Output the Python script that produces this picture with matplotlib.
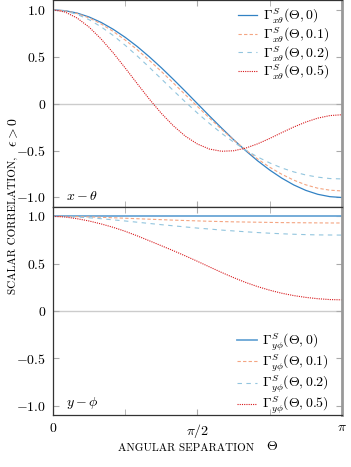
import numpy as np
import matplotlib.pyplot as plt

plt.rcParams['mathtext.fontset'] = 'cm'
plt.rcParams['font.family'] = 'serif'
plt.rcParams['font.serif'] = ['cmr10', 'DejaVu Serif']
plt.rcParams['axes.unicode_minus'] = False

# angular separation in degrees (sampled every 7.5 deg)
theta_deg = [0, 7.5, 15, 22.5, 30, 37.5, 45, 52.5, 60, 67.5, 75, 82.5, 90,
             97.5, 105, 112.5, 120, 127.5, 135, 142.5, 150, 157.5, 165, 172.5, 180]

# x - theta correlations
xt_e00 = [1.0, 0.991, 0.966, 0.924, 0.866, 0.793, 0.707, 0.609, 0.5, 0.383, 0.259, 0.131, 0.0,
          -0.131, -0.259, -0.383, -0.5, -0.609, -0.707, -0.793, -0.866, -0.924, -0.966, -0.991, -1.0]
xt_e01 = [1.0, 0.990, 0.961, 0.914, 0.850, 0.770, 0.678, 0.575, 0.462, 0.344, 0.220, 0.095, -0.03,
          -0.153, -0.273, -0.386, -0.492, -0.590, -0.677, -0.752, -0.815, -0.865, -0.901, -0.922, -0.93]
xt_e02 = [1.0, 0.988, 0.952, 0.895, 0.819, 0.727, 0.622, 0.508, 0.388, 0.264, 0.140, 0.018, -0.10,
          -0.211, -0.315, -0.409, -0.494, -0.568, -0.631, -0.685, -0.727, -0.760, -0.783, -0.798, -0.802]
xt_e05 = [1.0, 0.977, 0.913, 0.816, 0.689, 0.542, 0.380, 0.213, 0.049, -0.103, -0.236, -0.347, -0.43,
          -0.484, -0.507, -0.502, -0.474, -0.428, -0.371, -0.309, -0.249, -0.196, -0.154, -0.127, -0.118]

# y - phi correlations
yp_e00 = [1.0] * 25
yp_e01 = [1.0, 0.999, 0.997, 0.994, 0.99, 0.985, 0.98, 0.975, 0.97, 0.965, 0.96, 0.956, 0.952,
          0.948, 0.945, 0.942, 0.94, 0.938, 0.936, 0.934, 0.933, 0.932, 0.931, 0.930, 0.93]
yp_e02 = [1.0, 0.998, 0.993, 0.985, 0.975, 0.963, 0.951, 0.938, 0.925, 0.912, 0.90, 0.888, 0.876,
          0.866, 0.855, 0.846, 0.837, 0.829, 0.822, 0.816, 0.811, 0.807, 0.804, 0.803, 0.802]
yp_e05 = [1.0, 0.993, 0.975, 0.951, 0.92, 0.884, 0.842, 0.794, 0.742, 0.690, 0.637, 0.582, 0.525,
          0.466, 0.408, 0.353, 0.302, 0.258, 0.220, 0.188, 0.163, 0.144, 0.130, 0.121, 0.118]

eps_labels = ['0', '0.1', '0.2', '0.5']
colors = ['#3282c4', '#f4a582', '#92c5de', '#d7191c']
dashes = [(None, None), (3, 2), (4, 4), (1, 1)]

theta = np.deg2rad(theta_deg)

fig = plt.figure(figsize=(3.51, 4.67), dpi=100)
ax1 = fig.add_axes([0.151, 0.557, 0.823, 0.442])
ax2 = fig.add_axes([0.151, 0.111, 0.823, 0.446])

panels = [
    (ax1, [xt_e00, xt_e01, xt_e02, xt_e05], r'x\theta', r'$x-\theta$', 'upper right',
     (1.0, 1.031), '#3282c4', 0.9),
    (ax2, [yp_e00, yp_e01, yp_e02, yp_e05], r'y\phi', r'$y-\phi$', 'lower right',
     (1.0, -0.064), '#6aa6d6', 1.3),
]

for ax, series, sub, tag, loc, anchor, blue_c, blue_lw in panels:
    ax.axhline(0, color='#cccccc', lw=1.0, zorder=0)
    for vals, eps, c, d in zip(series, eps_labels, colors, dashes):
        lab = r'$\Gamma^S_{%s}(\Theta,%s)$' % (sub, eps)
        if d[0] is None:
            ax.plot(theta, vals, color=blue_c, lw=blue_lw, label=lab)
        else:
            ax.plot(theta, vals, color=c, lw=0.8, dashes=d, label=lab)
    ax.set_xlim(0, np.pi)
    ax.set_ylim(-1.1, 1.1)
    ax.set_yticks([-1.0, -0.5, 0, 0.5, 1.0])
    ax.set_yticklabels(['$-1.0$', '$-0.5$', '$0$', '$0.5$', '$1.0$'])
    ax.set_xticks([0, np.pi / 2, np.pi])
    ax.set_xticks([np.pi / 4, 3 * np.pi / 4], minor=True)
    ax.tick_params(which='both', direction='in', color='#aaaaaa', length=4,
                   top=True, right=True, labelsize=10, pad=5)
    for s in ['left', 'top', 'bottom']:
        ax.spines[s].set_color('#333333')
        ax.spines[s].set_linewidth(0.9)
    ax.spines['right'].set_color('#999999')
    ax.spines['right'].set_linewidth(2.0)
    ax.text(0.045, 0.02, tag, transform=ax.transAxes, fontsize=10, va='bottom', ha='left')
    ax.legend(loc=loc, bbox_to_anchor=anchor, frameon=False, fontsize=10, handlelength=1.4,
              handletextpad=0.4, labelspacing=0.0, borderaxespad=0.5)

ax1.set_xticklabels([])
ax2.set_xticklabels(['$0$', r'$\pi/2$', r'$\pi$'])

fig.text(0.531, 0.041, 'ANGULAR SEPARATION', fontsize=8, ha='center', va='center')
fig.text(0.775, 0.043, r'$\Theta$', fontsize=10, ha='center', va='center')
fig.text(0.037, 0.517, 'SCALAR CORRELATION,', fontsize=8, rotation=90, ha='center', va='center')
fig.text(0.037, 0.717, r'$\epsilon > 0$', fontsize=10, rotation=90, ha='center', va='center')

plt.savefig('out.png', dpi=100)
